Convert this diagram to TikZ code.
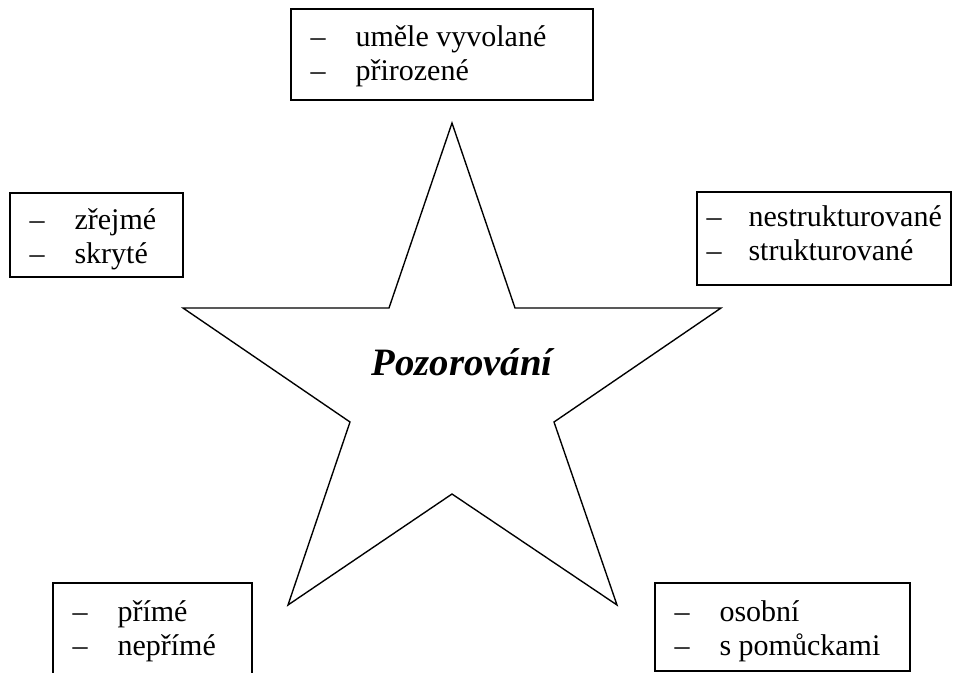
\documentclass[tikz,border=0pt]{standalone}
\usepackage{fontspec}
\setmainfont{Liberation Serif}
\usepackage{tikz}
\usetikzlibrary{positioning, calc, fit}
\tikzstyle{listbox} = [draw, line width=0.75pt, inner sep=0pt]
\tikzstyle{item} = [anchor=base west, inner sep=0pt, font=\fontsize{12}{14}\selectfont]
\tikzstyle{starline} = [line width=0.55pt, line join=miter]

\begin{document}
\begin{tikzpicture}[x=0.4pt, y=-0.4pt]
    \useasboundingbox (0,0) rectangle (967,673);
    % star in the middle
    \draw[starline] (452,123) -- (515,308) -- (721,308) -- (554,422) -- (617,605) -- (452,494)
        -- (288,605) -- (350,422) -- (183,308) -- (389,308) -- cycle;
    \node[anchor=base, font=\fontsize{15.5}{18}\selectfont\bfseries\itshape] (title) at (462,375) {Pozorování};
    % the five boxes
    \foreach \n/\l/\t/\r/\b/\o/\d/\s/\i/\j in {umele/291/9/593/100/38/20/65/uměle vyvolané/přirozené,
        zrejme/10/193/183/277/37/20/65/zřejmé/skryté,
        nestr/697/192/951/285/35/10/52/nestrukturované/strukturované,
        prime/53/583/252/700/39/20/65/přímé/nepřímé,
        osobni/655/583/910/671/39/20/65/osobní/s pomůckami}
    {
        \node[listbox, fit={(\l,\t) (\r,\b)}] (\n) {};
        \node[item] (\n-d1) at ($(\n.north west)+(\d,\o)$) {–};
        \node[item] (\n-a) at ($(\n.north west)+(\s,\o)$) {\i};
        \node[item] (\n-d2) at ($(\n.north west)+(\d,\o+34)$) {–};
        \node[item] (\n-b) at ($(\n.north west)+(\s,\o+34)$) {\j};
    }
\end{tikzpicture}
\end{document}
